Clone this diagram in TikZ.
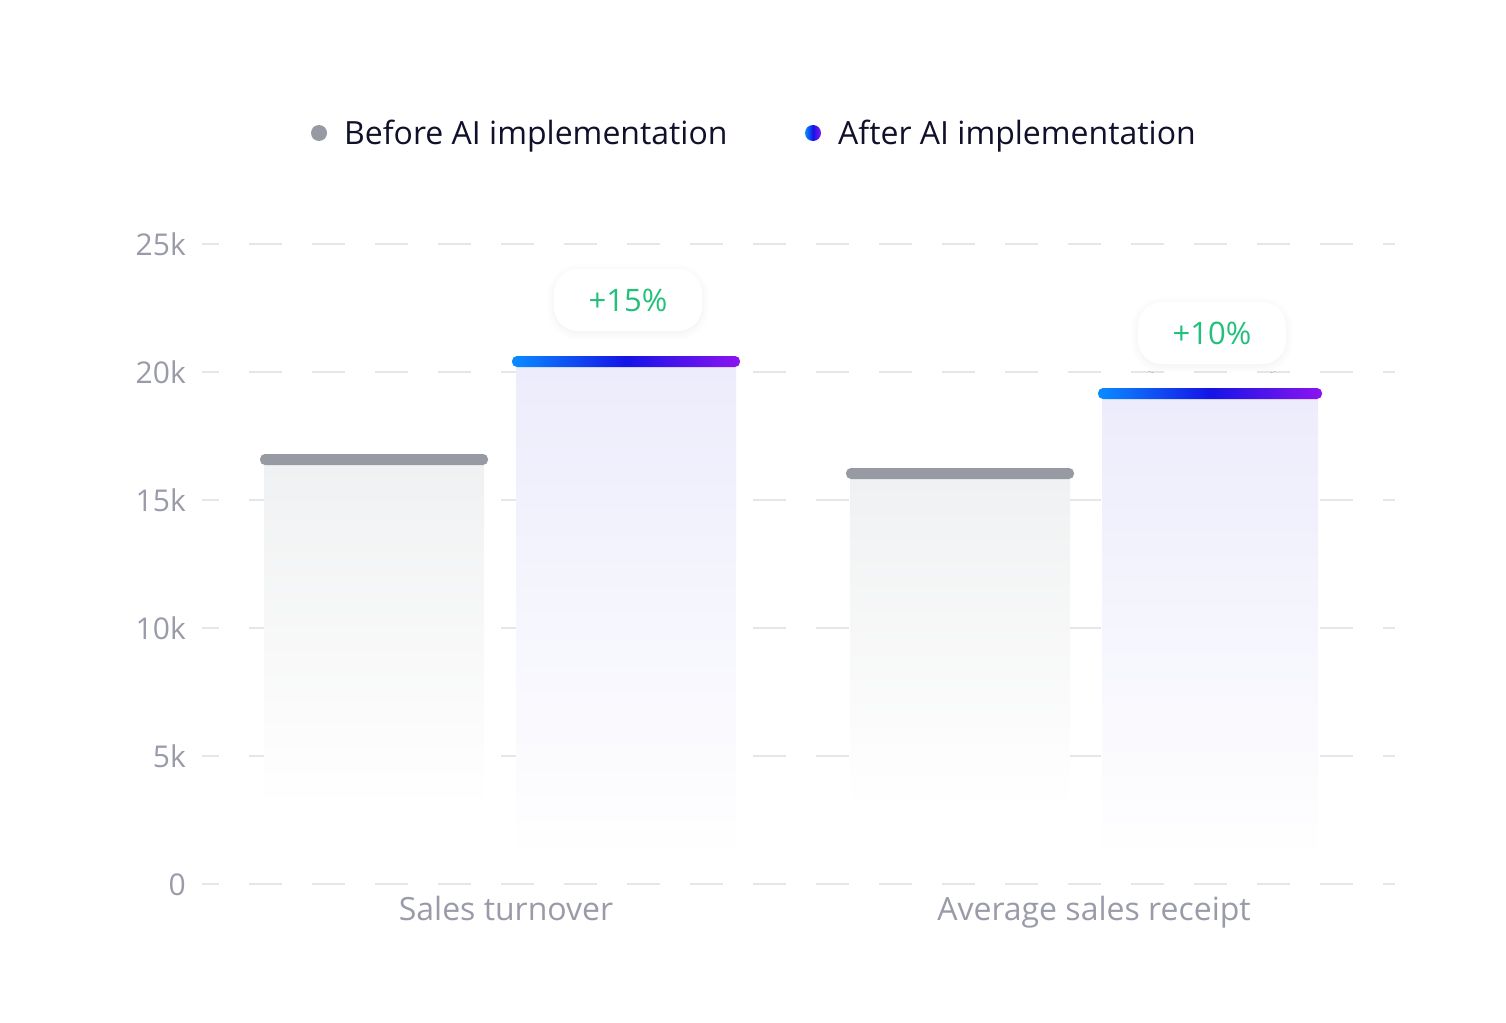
\documentclass[tikz,border=0pt]{standalone}
\usepackage{fontspec}
\setmainfont{Open Sans}
\usetikzlibrary{shadows.blur}
\definecolor{axis}{HTML}{9A9BA8}
\definecolor{grid}{HTML}{E6E6EA}
\definecolor{capgray}{HTML}{9799A3}
\definecolor{bodygray}{HTML}{F0F1F2}
\definecolor{bodyblue}{HTML}{ECECFC}
\definecolor{cA}{HTML}{0A8CFF}
\definecolor{cB}{HTML}{1414E6}
\definecolor{cC}{HTML}{8C14F0}
\definecolor{green}{HTML}{22C07A}
\definecolor{ink}{HTML}{10102A}
\tikzset{
  gridl/.style={grid,line width=1.6pt},
  ylab/.style={text=axis,font=\fontsize{30}{36}\selectfont,anchor=base east,inner sep=0},
  xlab/.style={text=axis,font=\fontsize{32}{38}\selectfont,anchor=base,inner sep=0},
  leg/.style={text=ink,font=\fontsize{32}{38}\selectfont,anchor=base west,inner sep=0},
  graycap/.style={fill=capgray,rounded corners=5pt},
  bluecap/.style={left color=cA,right color=cC,middle color=cB,rounded corners=5pt},
  badge/.style={fill=white,rounded corners=24pt,minimum width=148pt,minimum height=62pt,text=green,font=\fontsize{31}{36}\selectfont,blur shadow={shadow blur steps=10,shadow xshift=0pt,shadow yshift=-2pt,shadow opacity=6,shadow blur radius=8pt}},
}
\begin{document}
\begin{tikzpicture}[x=1pt,y=-1pt]
\useasboundingbox (0,0) rectangle (1506,1022);
% grid
\foreach \y/\l in {244/25k,372/20k,500/15k,628/10k,756/5k,884/0}{
  \draw[gridl] (202,\y) -- (219,\y);
  \draw[gridl,dash pattern=on 33pt off 30pt] (249,\y) -- (1395,\y);
  \node[ylab] (y\l) at (186,\y+11) {\l};
}
% bars
\shade[top color=bodygray,bottom color=white] (264,465) rectangle (484,810);
\shade[top color=bodyblue,bottom color=white] (516,367) rectangle (736,860);
\shade[top color=bodygray,bottom color=white] (850,479) rectangle (1070,810);
\shade[top color=bodyblue,bottom color=white] (1102,399) rectangle (1318,860);
\path[graycap] (260,454) rectangle (488,465);
\path[bluecap] (512,356) rectangle (740,367);
\path[graycap] (846,468) rectangle (1074,479);
\path[bluecap] (1098,388) rectangle (1322,399);
% badges
\node[badge] (b1) at (628,300) {+15\%};
\node[badge] (b2) at (1212,333) {+10\%};
% category labels
\node[xlab] (c1) at (506,920) {Sales turnover};
\node[xlab] (c2) at (1094,920) {Average sales receipt};
% legend
\fill[capgray] (319,133) circle (8);
\shade[left color=cA,right color=cC,middle color=cB] (813,133) circle (8);
\node[leg] (l1) at (344,144) {Before AI implementation};
\node[leg] (l2) at (838,144) {After AI implementation};
\end{tikzpicture}
\end{document}
